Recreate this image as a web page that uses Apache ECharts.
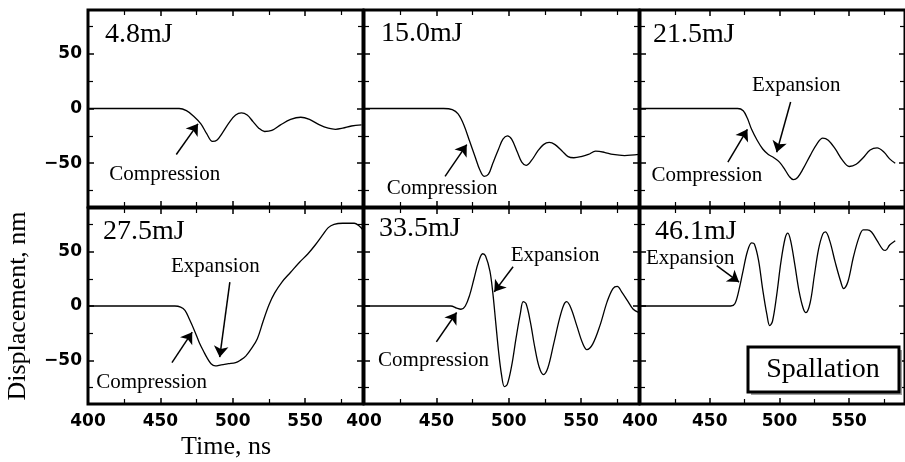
<!DOCTYPE html>
<html lang="en">
<head>
<meta charset="UTF-8">
<title>Displacement vs time</title>
<script src="https://cdn.jsdelivr.net/npm/echarts@6/dist/echarts.min.js"></script>
<style>
    html, body { margin: 0; padding: 0; background: #fff; }
    #main { width: 905px; height: 462px; }
</style>
</head>
<body>
<div id="main"></div>
<script>
// time (ns) / displacement (nm)
var energies = ['4.8mJ', '15.0mJ', '21.5mJ', '27.5mJ', '33.5mJ', '46.1mJ'];

var trace48 = [[400,0],[440,0],[463,0],[468,-2],[473,-7],[478,-14],[482,-23],[486,-30],[489,-29],[493,-22],
    [498,-12],[502,-6],[506,-4],[510,-6],[514,-12],[518,-18],[522,-21],[527,-20],[533,-15],[540,-10],
    [547,-8],[553,-10],[560,-15],[566,-18],[571,-19],[576,-18],[582,-16],[589,-15]];

var trace150 = [[400,0],[455,0],[461,-1],[465,-5],[469,-15],[473,-30],[477,-45],[480,-56],[483,-62],[486,-60],
    [489,-50],[493,-37],[496,-28],[499,-25],[502,-28],[506,-40],[509,-49],[512,-52],[516,-47],[520,-39],
    [524,-33],[528,-31],[532,-33],[537,-39],[541,-44],[545,-45],[550,-44],[555,-42],[560,-39],[566,-40],
    [572,-42],[580,-43],[590,-42]];

var trace215 = [[400,0],[470,0],[474,-2],[477,-9],[480,-19],[484,-29],[488,-37],[492,-42],[496,-45],[500,-49],
    [504,-56],[507,-62],[510,-65],[513,-63],[517,-55],[522,-43],[527,-32],[531,-27],[535,-29],[540,-37],
    [545,-47],[550,-53],[555,-51],[560,-45],[565,-38],[570,-36],[575,-40],[579,-46],[583,-50]];

var trace275 = [[400,0],[460,0],[464,-1],[467,-4],[470,-12],[474,-24],[477,-34],[480,-42],[482,-47],[485,-53],
    [488,-55],[492,-54],[497,-53],[502,-52],[505,-50],[509,-46],[513,-39],[517,-30],[521,-14],[525,1],
    [529,12],[534,22],[540,31],[546,40],[552,48],[557,56],[562,65],[566,72],[570,75],[576,76],
    [584,76],[587,74],[590,70]];

var trace335 = [[400,0],[460,0],[464,-2],[467,-3],[470,0],[473,10],[476,25],[479,40],[482,48],[484,46],
    [487,32],[489,12],[491,-15],[493,-42],[495,-63],[497,-74],[499,-72],[502,-55],[505,-30],[508,-7],
    [510,4],[512,2],[515,-15],[518,-38],[521,-56],[524,-63],[527,-57],[531,-35],[535,-12],[538,1],
    [540,4],[543,-2],[547,-18],[551,-34],[554,-40],[558,-35],[563,-18],[568,4],[572,16],[575,18],
    [578,13],[582,5],[586,-3],[590,-6]];

var trace461 = [[400,0],[465,0],[468,2],[471,15],[474,33],[477,50],[480,58],[482,57],[485,42],[488,15],
    [491,-8],[493,-18],[495,-14],[498,10],[501,40],[504,62],[506,67],[508,60],[511,38],[514,14],
    [517,-2],[519,-6],[522,3],[525,28],[528,52],[531,66],[533,68],[536,60],[540,40],[544,22],
    [546,16],[549,22],[553,45],[557,63],[560,70],[563,70],[566,68],[570,60],[574,52],[576,51],
    [579,56],[583,60]];

var traces = [trace48, trace150, trace215, trace275, trace335, trace461];

// [panel, label centre, arrow tail, arrow head] in data units
var compressionNotes = [
    [0, [453,-60], [461,-42], [476,-14]],
    [1, [454,-73], [456,-62], [471,-33]],
    [2, [448,-61], [463,-49], [477,-19]],
    [3, [444,-70], [458,-52], [472,-24]],
    [4, [448,-50], [450,-33], [464,-6]]
];
var expansionNotes = [
    [2, [512,21], [508,6], [498,-40]],
    [3, [488,36], [498,22], [491,-47]],
    [4, [532,46], [503,36], [490,13]],
    [5, [436,44], [455,37], [471,22]]
];

var colLeft = [88, 364, 640];
var rowTop = [10, 208];
var rowHeight = [197, 196];
var labelPos = [[105,35],[381,34],[653,35],[103,232],[379,229],[655,232]];

var tickFont = { color: '#000', fontFamily: 'DejaVu Sans', fontWeight: 'bold', fontSize: 17 };
var serif = 'Liberation Serif';

var grids = [], xAxes = [], yAxes = [], series = [], graphics = [];

for (var i = 0; i < 6; i++) {
    var col = i % 3, row = Math.floor(i / 3);
    grids.push({
        left: colLeft[col], top: rowTop[row], width: 275, height: rowHeight[row],
        show: true, borderColor: '#000', borderWidth: 3, backgroundColor: 'transparent'
    });
    ['bottom', 'top'].forEach(function (pos) {
        xAxes.push({
            type: 'value', gridIndex: i, position: pos, min: 400, max: 590, interval: 50,
            axisLine: { show: false, onZero: false },
            axisTick: { inside: true, length: 6, lineStyle: { color: '#000', width: 1.5 } },
            minorTick: { show: true, splitNumber: 2, length: 5, lineStyle: { color: '#000', width: 1.2 } },
            splitLine: { show: false },
            axisLabel: Object.assign({ show: pos === 'bottom' && row === 1, margin: 9, showMaxLabel: false }, tickFont)
        });
    });
    ['left', 'right'].forEach(function (pos) {
        yAxes.push({
            type: 'value', gridIndex: i, position: pos, min: -90, max: 90, splitNumber: 4,
            axisLine: { show: false, onZero: false },
            axisTick: { inside: true, length: 6, lineStyle: { color: '#000', width: 1.5 } },
            minorTick: { show: true, splitNumber: 2, length: 5, lineStyle: { color: '#000', width: 1.2 } },
            splitLine: { show: false },
            axisLabel: Object.assign({
                show: pos === 'left' && col === 0, margin: 6, showMinLabel: false, showMaxLabel: false,
                formatter: function (v) { return v < 0 ? '\u2212' + (-v) : String(v); }
            }, tickFont)
        });
    });

    var arrows = [], texts = [];
    compressionNotes.concat(expansionNotes).forEach(function (n, k) {
        if (n[0] !== i) return;
        arrows.push([{ coord: n[2] }, { coord: n[3] }]);
        texts.push({ name: k < compressionNotes.length ? 'Compression' : 'Expansion', coord: n[1] });
    });

    series.push({
        type: 'line', xAxisIndex: 2 * i, yAxisIndex: 2 * i,
        data: traces[i], smooth: 0.35, showSymbol: false, silent: true,
        lineStyle: { color: '#000', width: 1.3 },
        markLine: {
            silent: true, symbol: ['none', 'arrow'], symbolSize: 11,
            lineStyle: { color: '#000', width: 1.5, type: 'solid' },
            label: { show: false }, data: arrows
        },
        markPoint: {
            silent: true, symbol: 'circle', symbolSize: 1,
            itemStyle: { color: 'rgba(0,0,0,0)' },
            label: { show: true, position: 'inside', formatter: '{b}', color: '#000', fontFamily: serif, fontSize: 21 },
            data: texts
        }
    });

    graphics.push({
        type: 'text', x: labelPos[i][0], y: labelPos[i][1],
        style: { text: energies[i], font: '28px "' + serif + '"', fill: '#000', verticalAlign: 'middle' }
    });
}

graphics.push(
    { type: 'text', x: 18, y: 306, rotation: Math.PI / 2,
      style: { text: 'Displacement, nm', font: '26px "' + serif + '"', fill: '#000', align: 'center', verticalAlign: 'middle' } },
    { type: 'text', x: 226, y: 447,
      style: { text: 'Time, ns', font: '26px "' + serif + '"', fill: '#000', align: 'center', verticalAlign: 'middle' } },
    { type: 'rect', shape: { x: 751, y: 350, width: 151, height: 45 }, style: { fill: '#a0a0a0' }, z: 10 },
    { type: 'rect', shape: { x: 748, y: 347, width: 151, height: 45 }, style: { fill: '#fff', stroke: '#000', lineWidth: 3 }, z: 11 },
    { type: 'text', x: 823, y: 370, z: 12,
      style: { text: 'Spallation', font: '28px "' + serif + '"', fill: '#000', align: 'center', verticalAlign: 'middle' } }
);

var myChart = echarts.init(document.getElementById('main'));
myChart.setOption({
    animation: false,
    backgroundColor: '#fff',
    grid: grids,
    xAxis: xAxes,
    yAxis: yAxes,
    series: series,
    graphic: graphics
});
</script>
</body>
</html>
